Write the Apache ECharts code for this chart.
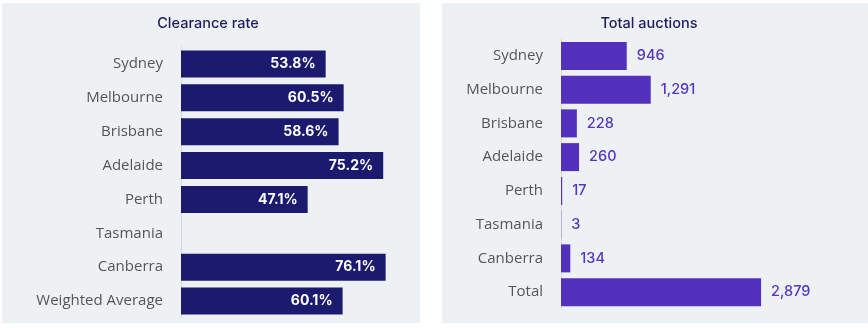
<!DOCTYPE html>
<html><head><meta charset="utf-8">
<script src="https://cdn.jsdelivr.net/npm/echarts@6/dist/echarts.min.js"></script>
<style>html,body{margin:0;padding:0;background:#fff}#c{width:868px;height:328px}</style>
</head><body><div id="c"></div>
<script>
const clearanceCategories = ['Sydney','Melbourne','Brisbane','Adelaide','Perth','Tasmania','Canberra','Weighted Average'];
const clearanceValues = [53.8, 60.5, 58.6, 75.2, 47.1, null, 76.1, 60.1];
const auctionCategories = ['Sydney','Melbourne','Brisbane','Adelaide','Perth','Tasmania','Canberra','Total'];
const auctionValues = [946, 1291, 228, 260, 17, 3, 134, 2879];

const FONT = 'Inter, "Open Sans", sans-serif';
const LFONT = '"Open Sans", Inter, sans-serif';
const chart = echarts.init(document.getElementById('c'), null, {renderer:'canvas'});
chart.setOption({
  animation: false,
  backgroundColor: '#ffffff',
  graphic: [
    {type:'rect', z:-10, shape:{x:2,y:3,width:418,height:320}, style:{fill:'#eef1f4'}},
    {type:'rect', z:-10, shape:{x:442,y:3,width:426,height:320}, style:{fill:'#eef1f4'}}
  ],
  title: [
    {text:'Clearance rate', left:203, top:11, textAlign:'center',
     textStyle:{fontFamily:FONT, fontSize:14.5, fontWeight:500, color:'#1e1c5c'}},
    {text:'Total auctions', left:644, top:11, textAlign:'center',
     textStyle:{fontFamily:FONT, fontSize:14.5, fontWeight:500, color:'#1e1c5c'}}
  ],
  grid: [
    {left:181, top:47, width:242, height:271},
    {left:561, top:39, width:278, height:270}
  ],
  xAxis: [
    {gridIndex:0, type:'value', min:0, max:90, show:false},
    {gridIndex:1, type:'value', min:0, max:4000, show:false}
  ],
  yAxis: [
    {gridIndex:0, type:'category', data:clearanceCategories, inverse:true,
     axisLine:{show:true, lineStyle:{color:'#d3d6dc'}}, axisTick:{show:false},
     axisLabel:{fontFamily:LFONT, fontSize:15, color:'#555555', margin:18},
     splitLine:{show:false}},
    {gridIndex:1, type:'category', data:auctionCategories, inverse:true,
     axisLine:{show:true, lineStyle:{color:'#d3d6dc'}}, axisTick:{show:false},
     axisLabel:{fontFamily:LFONT, fontSize:15, color:'#555555', margin:18},
     splitLine:{show:false}}
  ],
  series: [
    {type:'bar', xAxisIndex:0, yAxisIndex:0, data:clearanceValues, barWidth:27,
     itemStyle:{color:'#1b1a6e'},
     label:{show:true, position:'insideRight', distance:10, color:'#ffffff',
       fontFamily:FONT, fontSize:14, fontWeight:'bold',
       formatter: p => p.value == null ? '' : p.value.toFixed(1) + '%'}},
    {type:'bar', xAxisIndex:1, yAxisIndex:1, data:auctionValues, barWidth:28,
     itemStyle:{color:'#5331bd'},
     label:{show:true, position:'right', distance:10, color:'#5535bd',
       fontFamily:FONT, fontSize:14.5, fontWeight:500,
       formatter: p => p.value.toLocaleString('en-US')}}
  ]
});
</script></body></html>
